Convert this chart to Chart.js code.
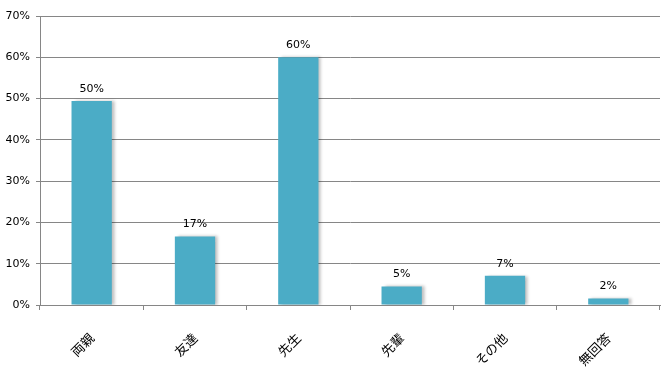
<!DOCTYPE html>
<html>
<head>
<meta charset="utf-8">
<script src="https://cdn.jsdelivr.net/npm/chart.js@4/dist/chart.umd.min.js"></script>
<style>
  html, body { margin: 0; padding: 0; background: #fff; }
  #wrap { width: 670px; height: 370px; }
</style>
</head>
<body>
<div id="wrap"><canvas id="c"></canvas></div>
<script>
"use strict";

var categories = ['両親', '友達', '先生', '先輩', 'その他', '無回答'];
var shares = [49.4, 16.6, 60.0, 4.5, 7.1, 1.6];
var shareLabels = ['50%', '17%', '60%', '5%', '7%', '2%'];
var yTicks = [0, 10, 20, 30, 40, 50, 60, 70];

// soft grey shadow to the right of each bar, like the office chart
var barShadow = {
    id: 'barShadow',
    beforeDatasetsDraw: function (chart) {
        var ctx = chart.ctx;
        ctx.save();
        ctx.shadowColor = 'rgba(0,0,0,0.25)';
        ctx.shadowBlur = 3;
        ctx.shadowOffsetX = 3;
        ctx.shadowOffsetY = 0;
    },
    afterDatasetsDraw: function (chart) {
        chart.ctx.restore();
    }
};

var valueLabels = {
    id: 'valueLabels',
    afterDraw: function (chart) {
        var ctx = chart.ctx,
            meta = chart.getDatasetMeta(0);
        ctx.save();
        ctx.font = '11px "DejaVu Sans", sans-serif';
        ctx.fillStyle = '#000';
        ctx.textAlign = 'center';
        ctx.textBaseline = 'middle';
        meta.data.forEach(function (bar, i) {
            ctx.fillText(shareLabels[i], bar.x, bar.y - 12);
        });
        ctx.restore();
    }
};

new Chart(document.getElementById('c').getContext('2d'), {
    type: 'bar',
    data: {
        labels: categories,
        datasets: [{
            data: shares,
            backgroundColor: '#4BACC6',
            borderWidth: 0,
            barPercentage: 0.39,
            categoryPercentage: 1.0
        }]
    },
    options: {
        responsive: true,
        maintainAspectRatio: false,
        animation: false,
        layout: { padding: { top: 16, right: 10, left: 0, bottom: 0 } },
        plugins: {
            legend: { display: false },
            tooltip: { enabled: false }
        },
        scales: {
            x: {
                grid: {
                    offset: true,
                    drawOnChartArea: false,
                    drawTicks: true,
                    tickLength: 5,
                    color: '#868686'
                },
                border: { color: '#868686', width: 1 },
                ticks: {
                    minRotation: 45,
                    maxRotation: 45,
                    padding: 20,
                    color: '#000',
                    font: { family: '"Noto Sans CJK JP", sans-serif', size: 13 }
                },
                afterFit: function (scale) { scale.height = 65; }
            },
            y: {
                min: 0,
                max: 70,
                afterBuildTicks: function (scale) {
                    scale.ticks = yTicks.map(function (v) { return { value: v }; });
                },
                grid: {
                    color: '#868686',
                    tickLength: 4
                },
                border: { color: '#868686', width: 1 },
                ticks: {
                    padding: 6,
                    color: '#000',
                    font: { family: '"DejaVu Sans", sans-serif', size: 11 },
                    callback: function (v) { return v + '%'; }
                },
                afterFit: function (scale) { scale.width = 40; }
            }
        }
    },
    plugins: [barShadow, valueLabels]
});
</script>
</body>
</html>
